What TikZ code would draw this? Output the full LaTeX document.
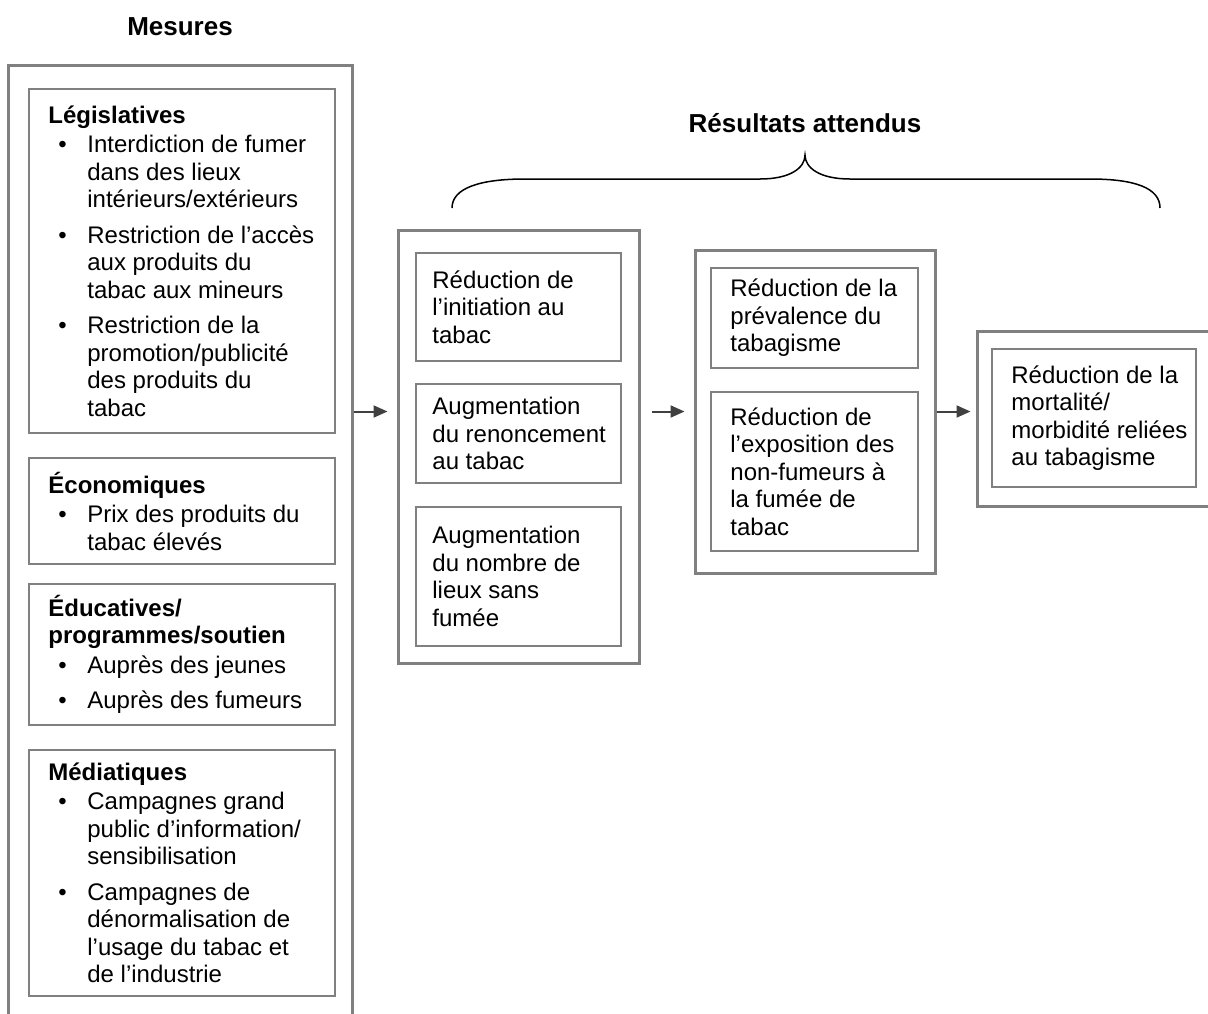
\documentclass[tikz,border=0pt]{standalone}
\usepackage{fontspec}
\setmainfont{Liberation Sans}
\usetikzlibrary{fit,arrows.meta}

\newcommand{\puce}{\makebox[19.5pt][l]{\hspace{5pt}\textbullet}}
\newcommand{\suite}{\hspace*{19.5pt}}

\tikzset{
  cadre/.style={draw=gray, line width=1.5pt, inner sep=0pt},
  boite/.style={draw=gray, line width=1pt, inner sep=0pt},
  texte/.style={anchor=west, inner sep=0pt, align=left, font={\fontsize{12}{13.75}\selectfont}},
  titre/.style={font={\fontsize{13}{15}\selectfont\bfseries}},
  fleche/.style={draw=darkgray, line width=1pt, -{Triangle[length=7pt,width=6pt]}}
}

\begin{document}
\begin{tikzpicture}[x=0.5pt,y=-0.5pt]
\useasboundingbox (0,0) rectangle (1208,1013);
\clip (0,0) rectangle (1208,1013);

% mesures
\node[titre] (mesures) at (180,27) {Mesures};
\node[cadre, fit={(8,65)(352,1040)}] (mesOut) {};
\node[boite, fit={(29,89)(335,433)}] (leg) {};
\node[texte] (legTxt) at ([xshift=10pt]leg.west) {\textbf{Législatives}\\[1pt]
  \puce Interdiction de fumer\\ \suite dans des lieux\\ \suite intérieurs/extérieurs\\[4pt]
  \puce Restriction de l’accès\\ \suite aux produits du\\ \suite tabac aux mineurs\\[4pt]
  \puce Restriction de la\\ \suite promotion/publicité\\ \suite des produits du\\ \suite tabac};
\node[boite, fit={(29,458)(335,564)}] (eco) {};
\node[texte] (ecoTxt) at ([xshift=10pt]eco.west) {\textbf{Économiques}\\[1pt]
  \puce Prix des produits du\\ \suite tabac élevés};
\node[boite, fit={(29,584)(335,725)}] (edu) {};
\node[texte] (eduTxt) at ([xshift=10pt]edu.west) {\textbf{Éducatives/}\\ \textbf{programmes/soutien}\\[1pt]
  \puce Auprès des jeunes\\[4pt] \puce Auprès des fumeurs};
\node[boite, fit={(29,750)(335,996)}] (med) {};
\node[texte] (medTxt) at ([xshift=10pt]med.west) {\textbf{Médiatiques}\\[1pt]
  \puce Campagnes grand\\ \suite public d’information/\\ \suite sensibilisation\\[4pt]
  \puce Campagnes de\\ \suite dénormalisation de\\ \suite l’usage du tabac et\\ \suite de l’industrie};

% resultats attendus
\node[titre] (attendus) at (805,123) {Résultats attendus};
\draw[line width=0.75pt] (452,208) .. controls (452,188) and (480,179) .. (525,179) -- (760,179)
  .. controls (790,179) and (805,168) .. (805,155) .. controls (805,168) and (820,179) .. (850,179)
  -- (1090,179) .. controls (1135,179) and (1160,188) .. (1160,208);

\node[cadre, fit={(398,230)(639,663)}] (resOut) {};
\node[boite, fit={(416,253)(621,361)}] (ini) {};
\node[texte] (iniTxt) at ([xshift=8.5pt]ini.west) {Réduction de\\ l’initiation au\\ tabac};
\node[boite, fit={(416,384)(621,483)}] (ren) {};
\node[texte] (renTxt) at ([xshift=8.5pt]ren.west) {Augmentation\\ du renoncement\\ au tabac};
\node[boite, fit={(416,507)(621,646)}] (lieux) {};
\node[texte] (lieuxTxt) at ([xshift=8.5pt]lieux.west) {Augmentation\\ du nombre de\\ lieux sans\\ fumée};

\node[cadre, fit={(695,250)(935,573)}] (effOut) {};
\node[boite, fit={(711,268)(918,368)}] (prev) {};
\node[texte] (prevTxt) at ([xshift=10pt]prev.west) {Réduction de la\\ prévalence du\\ tabagisme};
\node[boite, fit={(711,392)(918,551)}] (expo) {};
\node[texte] (expoTxt) at ([xshift=10pt]expo.west) {Réduction de\\ l’exposition des\\ non-fumeurs à\\ la fumée de\\ tabac};

\node[cadre, fit={(977,331)(1216,506)}] (finOut) {};
\node[boite, fit={(992,349)(1196,487)}] (mort) {};
\node[texte] (mortTxt) at ([xshift=10pt]mort.west) {Réduction de la\\ mortalité/\\ morbidité reliées\\ au tabagisme};

\draw[fleche] (mesOut.east |- effOut.center) -- ([xshift=-4.5pt]resOut.west |- effOut.center);
\draw[fleche] ([xshift=5.5pt]resOut.east |- effOut.center) -- ([xshift=-4.5pt]effOut.west);
\draw[fleche] (effOut.east) -- ([xshift=-2.5pt]finOut.west |- effOut.east);
\end{tikzpicture}
\end{document}
